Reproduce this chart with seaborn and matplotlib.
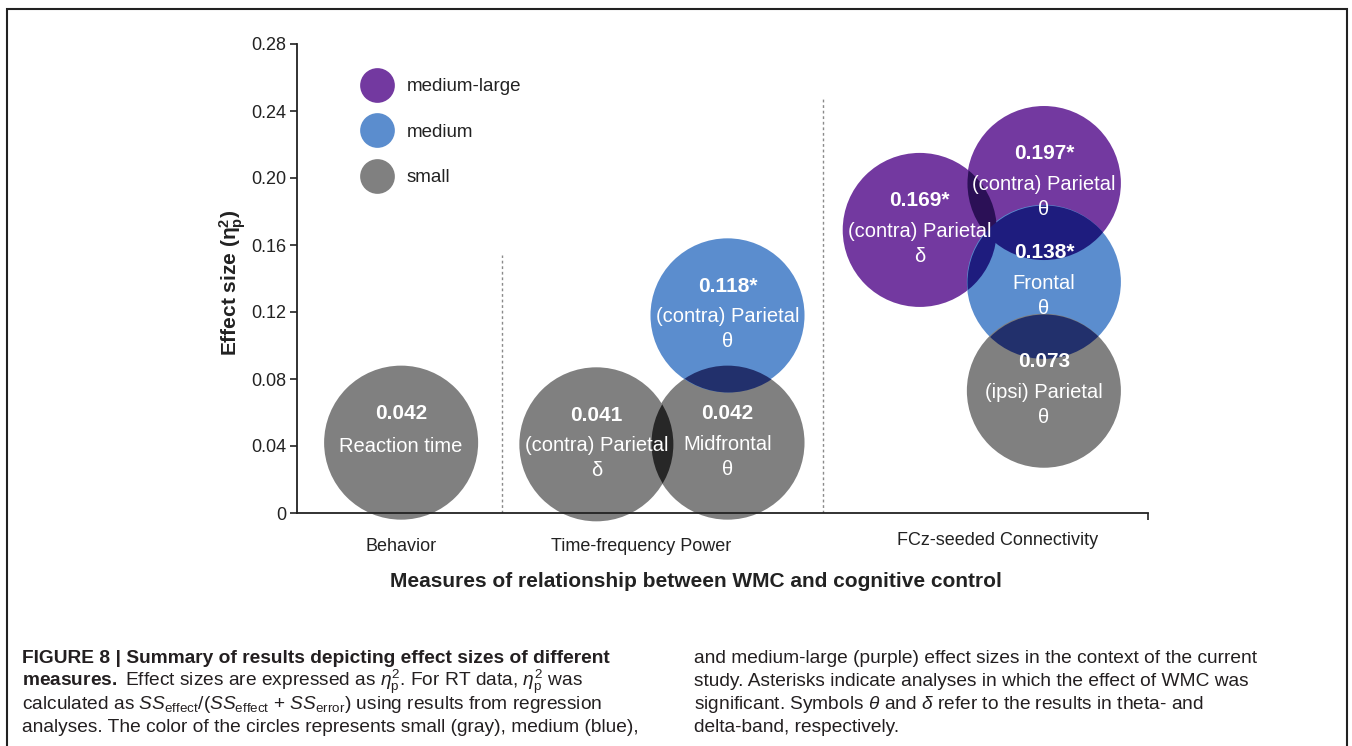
import matplotlib.pyplot as plt
import numpy as np
import pandas as pd
import seaborn as sns
from matplotlib.lines import Line2D
from matplotlib.patches import Rectangle
from matplotlib.path import Path
from matplotlib.transforms import Affine2D, ScaledTranslation, blended_transform_factory


# Data
measures = ["Reaction time", "(contra) Parietal", "Midfrontal", "(contra) Parietal",
            "(contra) Parietal", "(contra) Parietal", "Frontal", "(ipsi) Parietal"]
bands = ["", "δ", "θ", "θ", "δ", "θ", "θ", "θ"]
effect = [0.042, 0.041, 0.042, 0.118, 0.169, 0.197, 0.138, 0.073]
significant = [False, False, False, True, True, True, True, False]
size_class = ["small", "small", "small", "medium",
              "medium-large", "medium-large", "medium", "small"]
x_pos = [1.04, 2.99, 4.30, 4.30, 6.22, 7.46, 7.46, 7.46]

groups = ["Behavior", "Time-frequency Power", "FCz-seeded Connectivity"]
group_x = [1.04, 3.44, 7.0]
group_label_y = [-0.072, -0.072, -0.059]
dividers_x = [2.05, 5.25]
dividers_top = [0.154, 0.248]

legend_order = ["medium-large", "medium", "small"]
palette = {"medium-large": "#7339a0", "medium": "#5b8dce", "small": "#808080"}
overlap_colors = {
    frozenset(["small"]): "#272727",
    frozenset(["small", "medium"]): "#22306c",
    frozenset(["medium-large"]): "#2b1056",
    frozenset(["medium-large", "medium"]): "#1e1c7e",
}

caption_left = [
    ("FIGURE 8 | Summary of results depicting effect sizes of different", "bold"),
    (r"$\mathbf{measures.}$ Effect sizes are expressed as $\eta^2_\mathrm{p}$. "
     r"For RT data, $\eta^2_\mathrm{p}$ was", "normal"),
    (r"calculated as $SS_\mathrm{effect}$/($SS_\mathrm{effect}$ + $SS_\mathrm{error}$) "
     r"using results from regression", "normal"),
    ("analyses. The color of the circles represents small (gray), medium (blue),", "normal"),
]
caption_right = [
    "and medium-large (purple) effect sizes in the context of the current",
    "study. Asterisks indicate analyses in which the effect of WMC was",
    r"significant. Symbols $\theta$ and $\delta$ refer to the results in theta- and",
    "delta-band, respectively.",
]

df = pd.DataFrame({"x": x_pos, "effect": effect, "size": size_class})

sns.set_style("ticks")
plt.rcParams["font.family"] = ["Liberation Sans", "DejaVu Sans"]
plt.rcParams["mathtext.fontset"] = "custom"
plt.rcParams["mathtext.rm"] = "Liberation Sans"
plt.rcParams["mathtext.it"] = "Liberation Sans:italic"
plt.rcParams["mathtext.bf"] = "Liberation Sans:bold"

W, H = 1352, 746
fig = plt.figure(figsize=(W / 100, H / 100), dpi=100)
ax = fig.add_axes([297 / W, 1 - 513 / H, (1148 - 297) / W, (513 - 44) / H])
ax.set_xlim(0, 8.5)
ax.set_ylim(0, 0.28)

S = 12300  # marker area in pt^2 -> radius ~77 px
R_IN = np.sqrt(S) / 2 / 72

sns.scatterplot(data=df, x="x", y="effect", hue="size", palette=palette, s=S,
                linewidth=0, alpha=1, legend=False, ax=ax, clip_on=False, zorder=1)


def circle_transform(x, y):
    return Affine2D().scale(R_IN) + fig.dpi_scale_trans + ScaledTranslation(x, y, ax.transData)


# darker lens where circles overlap
r_px = R_IN * fig.dpi
for i in range(len(effect)):
    for j in range(i + 1, len(effect)):
        pi = ax.transData.transform((x_pos[i], effect[i]))
        pj = ax.transData.transform((x_pos[j], effect[j]))
        if np.hypot(*(pi - pj)) < 2 * r_px:
            col = overlap_colors[frozenset([size_class[i], size_class[j]])]
            coll = ax.scatter([x_pos[j]], [effect[j]], s=S, color=col, linewidths=0,
                              zorder=1.5, clip_on=True)
            coll.set_clip_box(None)
            coll.set_clip_path(Path.unit_circle(), circle_transform(x_pos[i], effect[i]))

# texts inside circles
for x, y, v, sig, name, band in zip(x_pos, effect, effect, significant, measures, bands):
    txt = f"{v:.3f}" + ("*" if sig else "")
    ax.annotate(txt, (x, y), xytext=(0, 21), textcoords="offset points", ha="center",
                va="center", color="white", fontweight="bold", fontsize=15, zorder=4)
    ax.annotate(name, (x, y), xytext=(0, -1 if band else -3), textcoords="offset points",
                ha="center", va="center", color="white", fontsize=14.5, zorder=4)
    if band:
        ax.annotate(band, (x, y), xytext=(0, -19), textcoords="offset points",
                    ha="center", va="center", color="white", fontsize=14.5, zorder=4)

# group dividers
for dx, top in zip(dividers_x, dividers_top):
    ax.plot([dx, dx], [0, top], color="#8a8a8a", lw=1, ls=(0, (2, 2)), zorder=0.5)

# axes styling
sns.despine(ax=ax)
for sp in ["left", "bottom"]:
    ax.spines[sp].set_linewidth(1.3)
    ax.spines[sp].set_color("#222222")
    ax.spines[sp].set_zorder(2.5)
ax.set_yticks(np.arange(0, 0.281, 0.04))
ax.set_yticklabels(["0" if t == 0 else f"{t:.2f}" for t in np.arange(0, 0.281, 0.04)])
ax.set_xticks([8.5], [""])
ax.tick_params(axis="both", length=5, width=1.2, color="#222222", labelsize=13,
               labelcolor="#222222", pad=3)

ax.set_ylabel(r"Effect size ($\mathbf{\eta^2_p}$)", fontsize=15, fontweight="bold",
              color="#222222")
ax.yaxis.set_label_coords(-0.058, 0.49)
ax.set_xlabel("Measures of relationship between WMC and cognitive control", fontsize=15,
              fontweight="bold", color="#222222")
ax.xaxis.set_label_coords(0.469, -0.125)

trans = blended_transform_factory(ax.transData, ax.transAxes)
for gx, gy, g in zip(group_x, group_label_y, groups):
    ax.text(gx, gy, g, transform=trans, ha="center", va="center", fontsize=13,
            color="#222222")

# legend
handles = [Line2D([], [], marker="o", ls="", markersize=25, markerfacecolor=palette[k],
                  markeredgewidth=0) for k in legend_order]
ax.legend(handles, legend_order, loc="upper left", bbox_to_anchor=(362 / W, 1 - 78 / H),
          bbox_transform=fig.transFigure, frameon=False, fontsize=13.5, borderpad=0,
          borderaxespad=0, handlelength=1.6, handletextpad=0.8, labelspacing=1.52,
          labelcolor="#222222")

# frame around the figure panel
fig.add_artist(Rectangle((7 / W, -0.05), (1347 - 7) / W, 1.05 - 9 / H, fill=False,
                         lw=1.5, edgecolor="#222222", transform=fig.transFigure))

# caption
for k, (line, weight) in enumerate(caption_left):
    fig.text(22 / W, 1 - (663 + 23 * k) / H, line, fontsize=13.8, fontweight=weight,
             va="baseline", color="#231f20")
for k, line in enumerate(caption_right):
    fig.text(694 / W, 1 - (663 + 23 * k) / H, line, fontsize=13.8, va="baseline",
             color="#231f20")

fig.savefig("out.png", dpi=100)
